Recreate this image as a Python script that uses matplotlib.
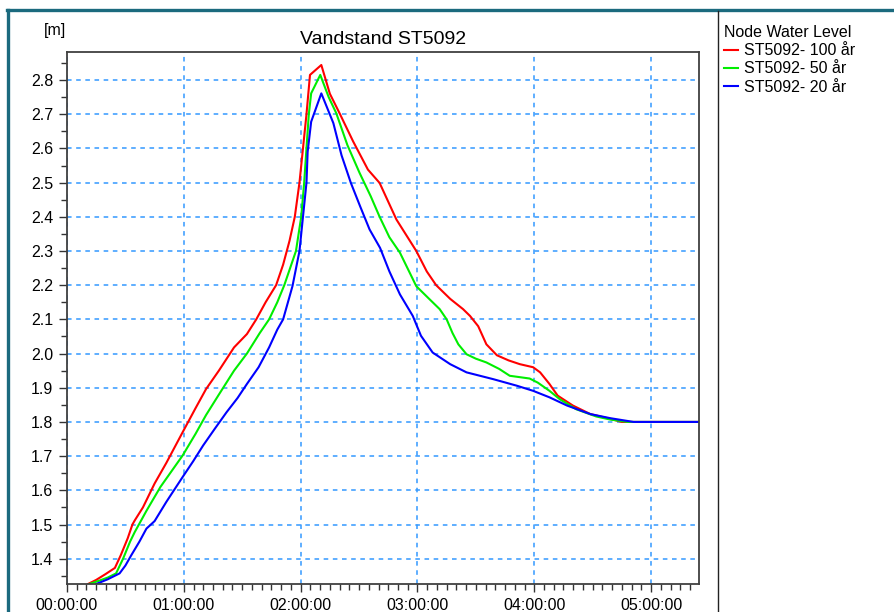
import matplotlib
matplotlib.use("Agg")
import matplotlib.pyplot as plt
from matplotlib.lines import Line2D
from matplotlib.ticker import MultipleLocator, FuncFormatter

plt.rcParams['font.family'] = ['Liberation Sans', 'DejaVu Sans']

# time in hours, water level in m
t_100 = [0.18, 0.25, 0.33, 0.41, 0.46, 0.52, 0.56, 0.58, 0.65, 0.75, 0.85, 0.99, 1.10, 1.19,
         1.30, 1.43, 1.54, 1.62, 1.70, 1.79, 1.85, 1.905, 1.95, 1.99, 2.02, 2.05, 2.08, 2.177,
         2.25, 2.333, 2.45, 2.576, 2.676, 2.82, 2.99, 3.08, 3.16, 3.28, 3.39, 3.45, 3.52, 3.59,
         3.68, 3.78, 3.876, 3.99, 4.05, 4.13, 4.20, 4.33, 4.48, 4.65, 4.75, 5.45]
v_100 = [1.326, 1.338, 1.355, 1.373, 1.41, 1.46, 1.50, 1.512, 1.55, 1.62, 1.68, 1.77, 1.84, 1.896,
         1.95, 2.018, 2.057, 2.10, 2.15, 2.20, 2.26, 2.33, 2.40, 2.50, 2.60, 2.70, 2.815, 2.844,
         2.76, 2.703, 2.62, 2.538, 2.499, 2.392, 2.30, 2.24, 2.20, 2.16, 2.13, 2.11, 2.08, 2.027,
         1.995, 1.98, 1.969, 1.96, 1.945, 1.911, 1.877, 1.848, 1.823, 1.809, 1.80, 1.80]

t_50 = [0.19, 0.27, 0.35, 0.42, 0.48, 0.54, 0.58, 0.68, 0.80, 0.99, 1.10, 1.19, 1.30, 1.43,
        1.54, 1.65, 1.73, 1.80, 1.86, 1.91, 1.96, 2.005, 2.03, 2.05, 2.07, 2.09, 2.168, 2.24,
        2.305, 2.40, 2.505, 2.60, 2.676, 2.76, 2.85, 2.99, 3.10, 3.19, 3.25, 3.30, 3.35, 3.42,
        3.50, 3.59, 3.70, 3.79, 3.96, 4.03, 4.13, 4.22, 4.36, 4.53, 4.65, 4.80, 5.45]
v_50 = [1.326, 1.335, 1.345, 1.357, 1.40, 1.45, 1.478, 1.54, 1.61, 1.702, 1.765, 1.82, 1.88, 1.95,
        2.0, 2.06, 2.10, 2.15, 2.20, 2.25, 2.30, 2.40, 2.499, 2.60, 2.70, 2.761, 2.815, 2.75,
        2.703, 2.61, 2.528, 2.46, 2.40, 2.34, 2.295, 2.197, 2.16, 2.13, 2.10, 2.06, 2.027, 1.998,
        1.985, 1.974, 1.955, 1.935, 1.927, 1.915, 1.891, 1.866, 1.837, 1.816, 1.807, 1.80, 1.80]

t_20 = [0.25, 0.35, 0.45, 0.50, 0.55, 0.62, 0.68, 0.75, 0.85, 0.99, 1.08, 1.165, 1.265, 1.365,
        1.46, 1.54, 1.64, 1.73, 1.80, 1.85, 1.93, 1.99, 2.02, 2.05, 2.06, 2.09, 2.177, 2.28,
        2.35, 2.43, 2.51, 2.59, 2.68, 2.76, 2.85, 2.96, 3.03, 3.13, 3.28, 3.42, 3.65, 3.85,
        3.99, 4.13, 4.28, 4.48, 4.65, 4.85, 5.45]
v_20 = [1.326, 1.34, 1.357, 1.38, 1.41, 1.45, 1.488, 1.51, 1.566, 1.639, 1.685, 1.731, 1.78, 1.828,
        1.87, 1.911, 1.96, 2.018, 2.07, 2.10, 2.197, 2.30, 2.40, 2.50, 2.59, 2.678, 2.761, 2.674,
        2.58, 2.499, 2.43, 2.363, 2.309, 2.24, 2.173, 2.11, 2.052, 2.003, 1.969, 1.945, 1.925, 1.906,
        1.891, 1.872, 1.848, 1.823, 1.811, 1.80, 1.80]

labels = ['ST5092- 100 år', 'ST5092- 50 år', 'ST5092- 20 år']
colors = ['#ff0000', '#00ee00', '#0000ff']

W, H = 894, 612
fig = plt.figure(figsize=(W / 100, H / 100), dpi=100)
ax = fig.add_axes([67 / W, 1 - 584 / H, (699 - 67) / W, (584 - 52) / H])

for t, v, lab, c in zip([t_100, t_50, t_20], [v_100, v_50, v_20], labels, colors):
    ax.plot(t, v, color=c, lw=1.5, label=lab)

ax.set_xlim(0, 5.41)
ax.set_ylim(1.326, 2.882)

def hms(x, pos):
    s = int(round(x * 3600))
    return '%02d:%02d:%02d' % (s // 3600, (s % 3600) // 60, s % 60)

ax.xaxis.set_major_locator(MultipleLocator(1))
ax.xaxis.set_minor_locator(MultipleLocator(5 / 60))
ax.xaxis.set_major_formatter(FuncFormatter(hms))
ax.yaxis.set_major_locator(MultipleLocator(0.1))
ax.yaxis.set_minor_locator(MultipleLocator(0.05))
ax.yaxis.set_major_formatter(FuncFormatter(lambda y, p: '%.1f' % y))

ax.tick_params(which='major', length=6, width=1, color='#333333', labelsize=11.5, pad=4)
ax.tick_params(which='minor', length=4, width=1, color='#333333')
for sp in ax.spines.values():
    sp.set_color('#404040')
    sp.set_linewidth(1.3)

ax.grid(True, which='major', color='#3399ff', linestyle=(0, (3, 3)), linewidth=1.1)

ax.set_title('Vandstand ST5092', fontsize=14, pad=6)
fig.text(44 / W, 1 - 31 / H, '[m]', fontsize=11.5, va='center', ha='left')

leg = fig.legend(loc='upper left', bbox_to_anchor=(724 / W, 1 - 25 / H), frameon=False,
                 title='Node Water Level', title_fontsize=11.5, fontsize=11.5,
                 alignment='left', handlelength=0.9, handletextpad=0.35,
                 labelspacing=0.2, borderpad=0, borderaxespad=0)

# outer frame and legend separator
fig.add_artist(Line2D([7 / W, 1], [1 - 9.5 / H, 1 - 9.5 / H], color='#1b6a7e', lw=2.4))
fig.add_artist(Line2D([7.5 / W, 7.5 / W], [0, 1 - 9.5 / H], color='#1b6a7e', lw=2.4))
fig.add_artist(Line2D([718 / W, 718 / W], [0, 1 - 11 / H], color='#222222', lw=1.0))

fig.savefig('out.png', dpi=100)
